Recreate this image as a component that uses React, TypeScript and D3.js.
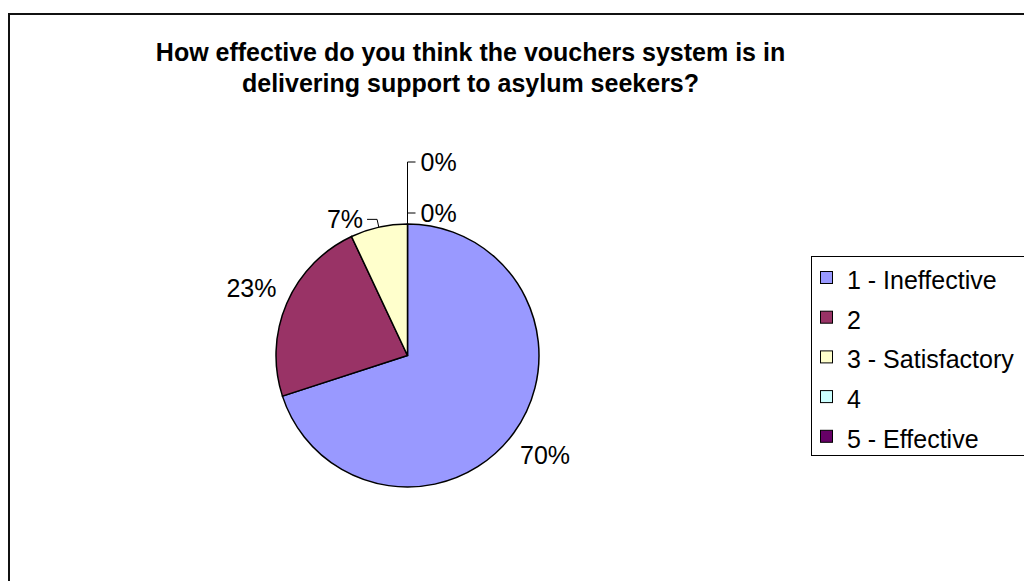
import { useMemo } from "react";
import { arc, pie } from "d3";

const categories = ["1 - Ineffective", "2", "3 - Satisfactory", "4", "5 - Effective"];
const shares = [70, 23, 7, 0, 0];
const sliceColors = ["#9999FF", "#993366", "#FFFFCC", "#CCFFFF", "#660066"];
const titleLines = [
  "How effective do you think the vouchers system is in",
  "delivering support to asylum seekers?",
];

const W = 1024;
const H = 581;
const font = "'Liberation Sans', Arial, sans-serif";

export default function App() {
  const cx = 407.5;
  const cy = 355.5;
  const r = 131.5;

  const slices = useMemo(
    () => pie<number>().sort(null).value((d) => d)(shares),
    []
  );
  const slicePath = arc<any>().innerRadius(0).outerRadius(r);
  const pointAt = (angle: number, radius: number) => [
    cx + radius * Math.sin(angle),
    cy - radius * Math.cos(angle),
  ];

  // zero slices get stacked leaders above the pie top
  const zeroLift = [62, 11];
  let zeroIndex = 0;

  return (
    <svg
      width={W}
      height={H}
      style={{ position: "fixed", left: 0, top: 0, display: "block", background: "#fff" }}
      fontFamily={font}
    >
      <rect x={9} y={14} width={W + 100} height={H + 100} fill="#fff" stroke="#111" strokeWidth={2} />

      {titleLines.map((line, i) => (
        <text
          key={i}
          x={470.5}
          y={61 + i * 31}
          textAnchor="middle"
          fontSize={25}
          fontWeight="bold"
          fill="#000"
        >
          {line}
        </text>
      ))}

      <g transform={`translate(${cx},${cy})`}>
        {slices.map((s, i) =>
          s.endAngle > s.startAngle ? (
            <path key={i} d={slicePath(s) || ""} fill={sliceColors[i]} stroke="#000" strokeWidth={1.5} />
          ) : null
        )}
      </g>

      {slices.map((s, i) => {
        const mid = (s.startAngle + s.endAngle) / 2;
        const label = `${shares[i]}%`;
        if (shares[i] >= 10) {
          const [lx, ly] = pointAt(mid, 170);
          return (
            <text key={i} x={lx} y={ly} dy="0.35em" textAnchor="middle" fontSize={25}>
              {label}
            </text>
          );
        }
        if (shares[i] > 0) {
          const [ax, ay] = pointAt(mid, r);
          const [ex, ey] = pointAt(mid, r + 8);
          return (
            <g key={i}>
              <polyline
                points={`${ax},${ay} ${ex},${ey} ${ex - 10},${ey}`}
                fill="none"
                stroke="#000"
                strokeWidth={1}
              />
              <text x={ex - 14} y={ey} dy="0.35em" textAnchor="end" fontSize={25}>
                {label}
              </text>
            </g>
          );
        }
        const [ax, ay] = pointAt(mid, r);
        const lift = zeroLift[zeroIndex++ % zeroLift.length];
        return (
          <g key={i}>
            <polyline
              points={`${ax},${ay} ${ax},${ay - lift} ${ax + 8},${ay - lift}`}
              fill="none"
              stroke="#000"
              strokeWidth={1}
            />
            <text x={ax + 13} y={ay - lift} dy="0.35em" textAnchor="start" fontSize={25}>
              {label}
            </text>
          </g>
        );
      })}

      <rect x={811.5} y={256.5} width={260} height={199} fill="#fff" stroke="#000" strokeWidth={1} />
      {categories.map((c, i) => {
        const base = 289 + i * 39.7;
        return (
          <g key={c}>
            <rect x={820.5} y={base - 17.5} width={12} height={12} fill={sliceColors[i]} stroke="#000" strokeWidth={1} />
            <text x={847} y={base} fontSize={25} fill="#000">
              {c}
            </text>
          </g>
        );
      })}
    </svg>
  );
}
